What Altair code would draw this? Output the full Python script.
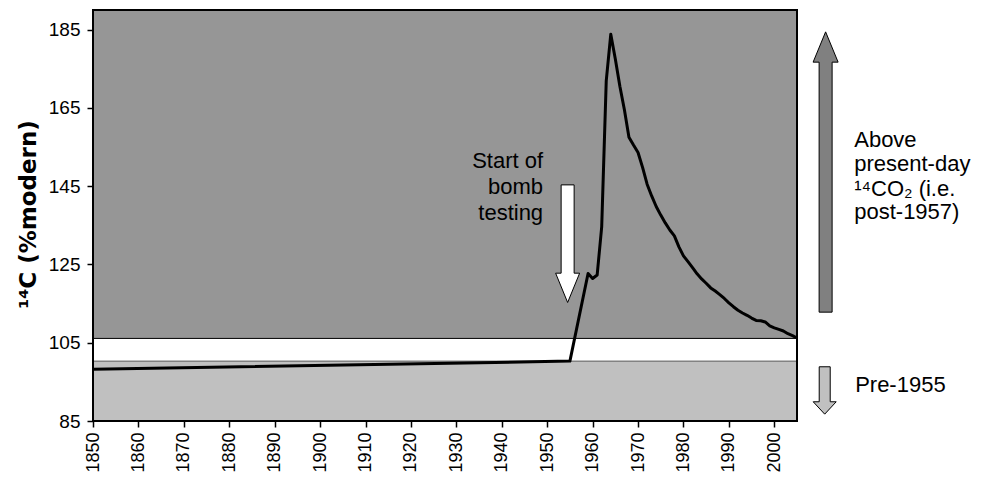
import altair as alt
import pandas as pd

# ---- data ----
years = [1850, 1955, 1959, 1960, 1961, 1962, 1963, 1964, 1965, 1966, 1967, 1968,
         1969, 1970, 1971, 1972, 1973, 1974, 1975, 1976, 1977, 1978, 1979, 1980,
         1981, 1982, 1983, 1984, 1985, 1986, 1987, 1988, 1989, 1990, 1991, 1992,
         1993, 1994, 1995, 1996, 1997, 1998, 1999, 2000, 2001, 2002, 2003, 2004, 2005]
c14 = [98.2, 100.3, 122.7, 121.4, 122.3, 134.6, 171.9, 183.8, 177.5, 170.5, 164.5, 157.5,
       155.5, 153.6, 149.8, 145.5, 142.5, 139.8, 137.6, 135.6, 133.8, 132.3, 129.5, 127.2,
       125.7, 124.2, 122.6, 121.3, 120.2, 119.0, 118.2, 117.3, 116.3, 115.2, 114.2, 113.3,
       112.6, 112.0, 111.3, 110.7, 110.6, 110.3, 109.3, 108.8, 108.4, 108.0, 107.3, 106.8, 106.2]

x_domain = [1850, 2005]
y_domain = [85, 190]
x_ticks = list(range(1850, 2001, 10))
y_ticks = [85, 105, 125, 145, 165, 185]

post_band = [106.1, 190]     # above present-day
pre_band = [85, 100.3]       # pre-1955

bomb_lines = ["Start of", "bomb", "testing"]
bomb_x = 1949.1
bomb_y = [149.6, 143.0, 136.4]

above_lines = ["Above", "present-day", "\u00b9\u2074CO\u2082 (i.e.", "post-1957)"]
above_x = 2017.6
above_y = [154.9, 148.9, 142.5, 136.6]

pre_label = ["Pre-1955"]
pre_x = 2017.8
pre_y = [92.4]

# arrow anchor points (centre of each arrow)
bomb_arrow = {"year": 1954.5, "value": 130.3}
up_arrow = {"year": 2011.3, "value": 148.6}
down_arrow = {"year": 2011.1, "value": 92.8}

FONT = "Liberation Sans"

xs = alt.Scale(domain=x_domain, nice=False, zero=False)
ys = alt.Scale(domain=y_domain, nice=False, zero=False)

x_axis = alt.Axis(values=x_ticks, format="d", labelAngle=270, title=None,
                  tickSize=6, labelPadding=5, domain=False, zindex=1, labelFontSize=18)
y_axis = alt.Axis(values=y_ticks, format="d", title="\u00b9\u2074C (%modern)",
                  tickSize=6, labelPadding=7, domain=False, zindex=1,
                  titleX=-58, titleY=204, titleAlign="center",
                  titleBaseline="alphabetic", titleAngle=270,
                  titleFont="DejaVu Sans", titleFontSize=23)

def X(field="year"):
    return alt.X(f"{field}:Q", scale=xs, axis=x_axis)

def Y(field="value"):
    return alt.Y(f"{field}:Q", scale=ys, axis=y_axis)

curve_df = pd.DataFrame({"year": years, "value": c14})

def band(lo_hi, fill, stroke):
    df = pd.DataFrame({"year": [x_domain[0]], "year2": [x_domain[1]],
                       "value": [lo_hi[0]], "value2": [lo_hi[1]]})
    return alt.Chart(df).mark_rect(fill=fill, stroke=stroke, strokeWidth=1).encode(
        x=X(), x2="year2:Q", y=Y(), y2="value2:Q")

dark = band(post_band, "#969696", "#000000")
light = band(pre_band, "#c0c0c0", "#5a5a5a")

line = alt.Chart(curve_df).mark_line(color="black", strokeWidth=3, strokeJoin="round").encode(
    x=X(), y=Y())

frame_df = pd.DataFrame({"year": [x_domain[0]], "year2": [x_domain[1]],
                         "value": [y_domain[0]], "value2": [y_domain[1]]})
frame = alt.Chart(frame_df).mark_rect(filled=False, stroke="black", strokeWidth=2).encode(
    x=X(), x2="year2:Q", y=Y(), y2="value2:Q")

def arrow(pt, path, fill):
    df = pd.DataFrame({"year": [pt["year"]], "value": [pt["value"]]})
    return alt.Chart(df).mark_point(shape=path, size=4, filled=True, fill=fill,
                                    stroke="black", strokeWidth=1, opacity=1).encode(
        x=X(), y=Y())

bomb_arr = arrow(bomb_arrow, "M-6.5,-58.8L6.5,-58.8L6.5,29.5L12,29.5L0,58.8L-12,29.5L-6.5,29.5Z", "white")
up_arr = arrow(up_arrow, "M0,-140.2L12.5,-109.9L6.5,-109.9L6.5,140.1L-6.5,140.1L-6.5,-109.9L-12.5,-109.9Z", "#808080")
down_arr = arrow(down_arrow, "M-5.5,-23.7L5.5,-23.7L5.5,11.3L11.5,11.3L0,23.7L-11.5,11.3L-5.5,11.3Z", "#c0c0c0")

def text_block(lines, x, ys_, align):
    df = pd.DataFrame({"label": lines, "year": [x] * len(lines), "value": ys_})
    return alt.Chart(df).mark_text(align=align, baseline="alphabetic", font=FONT,
                                   fontSize=22, color="black").encode(
        x=X(), y=Y(), text="label:N")

bomb_txt = text_block(bomb_lines, bomb_x, bomb_y, "right")
above_txt = text_block(above_lines, above_x, above_y, "left")
pre_txt = text_block(pre_label, pre_x, pre_y, "left")

chart = alt.layer(dark, light, line, frame, bomb_arr, up_arr, down_arr,
                  bomb_txt, above_txt, pre_txt).properties(
    width=704, height=411,
    padding={"left": 85, "top": 2, "right": 175, "bottom": 51},
    autosize=alt.AutoSizeParams(type="none"),
).configure_view(stroke=None).configure_axis(
    labelFont=FONT, labelFontSize=19, labelColor="black",
    tickColor="black", tickWidth=1.5, grid=False,
    titleFontWeight="bold", titleColor="black",
)

chart.save("out.html", embed_options={"renderer": "svg", "actions": False})
